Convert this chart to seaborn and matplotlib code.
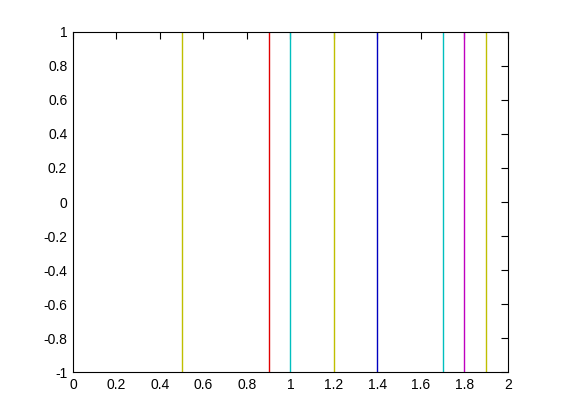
import pandas as pd
import matplotlib
matplotlib.use("Agg")
import matplotlib.pyplot as plt
import seaborn as sns

# vertical line positions and their colours (MATLAB-style colour letters)
line_x = [0.5, 0.9, 1.0, 1.2, 1.4, 1.7, 1.8, 1.9]
line_colors = ["#bfbf00", "#e00000", "#00bfbf", "#bfbf00",
               "#0000c0", "#00bfbf", "#bf00bf", "#bfbf00"]
y_span = [-1, 1]

x_ticks = [0, 0.2, 0.4, 0.6, 0.8, 1, 1.2, 1.4, 1.6, 1.8, 2]
y_ticks = [-1, -0.8, -0.6, -0.4, -0.2, 0, 0.2, 0.4, 0.6, 0.8, 1]
x_labels = ["0", "0.2", "0.4", "0.6", "0.8", "1", "1.2", "1.4", "1.6", "1.8", "2"]
y_labels = ["-1", "-0.8", "-0.6", "-0.4", "-0.2", "0", "0.2", "0.4", "0.6", "0.8", "1"]

rows = []
for i, x in enumerate(line_x):
    for y in y_span:
        rows.append({"x": x, "y": y, "line": i})
df = pd.DataFrame(rows)

sns.set_style("white")
plt.rcParams["font.family"] = ["Liberation Sans", "DejaVu Sans"]

fig = plt.figure(figsize=(5.61, 4.2), dpi=100)
ax = fig.add_axes([0.13, 0.114, 0.7755, 0.81])

sns.lineplot(data=df, x="x", y="y", hue="line", palette=line_colors,
             estimator=None, sort=False, linewidth=1.0, legend=False, ax=ax)

ax.set_xlim(0, 2)
ax.set_ylim(-1, 1)
ax.set_xticks(x_ticks)
ax.set_xticklabels(x_labels)
ax.set_yticks(y_ticks)
ax.set_yticklabels(y_labels)
ax.set_xlabel("")
ax.set_ylabel("")
ax.tick_params(direction="in", length=5, width=0.8, labelsize=10,
               top=True, right=True, color="black", labelcolor="black", pad=4)
for s in ax.spines.values():
    s.set_color("black")
    s.set_linewidth(0.8)

fig.savefig("out.png", dpi=100)
plt.close(fig)
